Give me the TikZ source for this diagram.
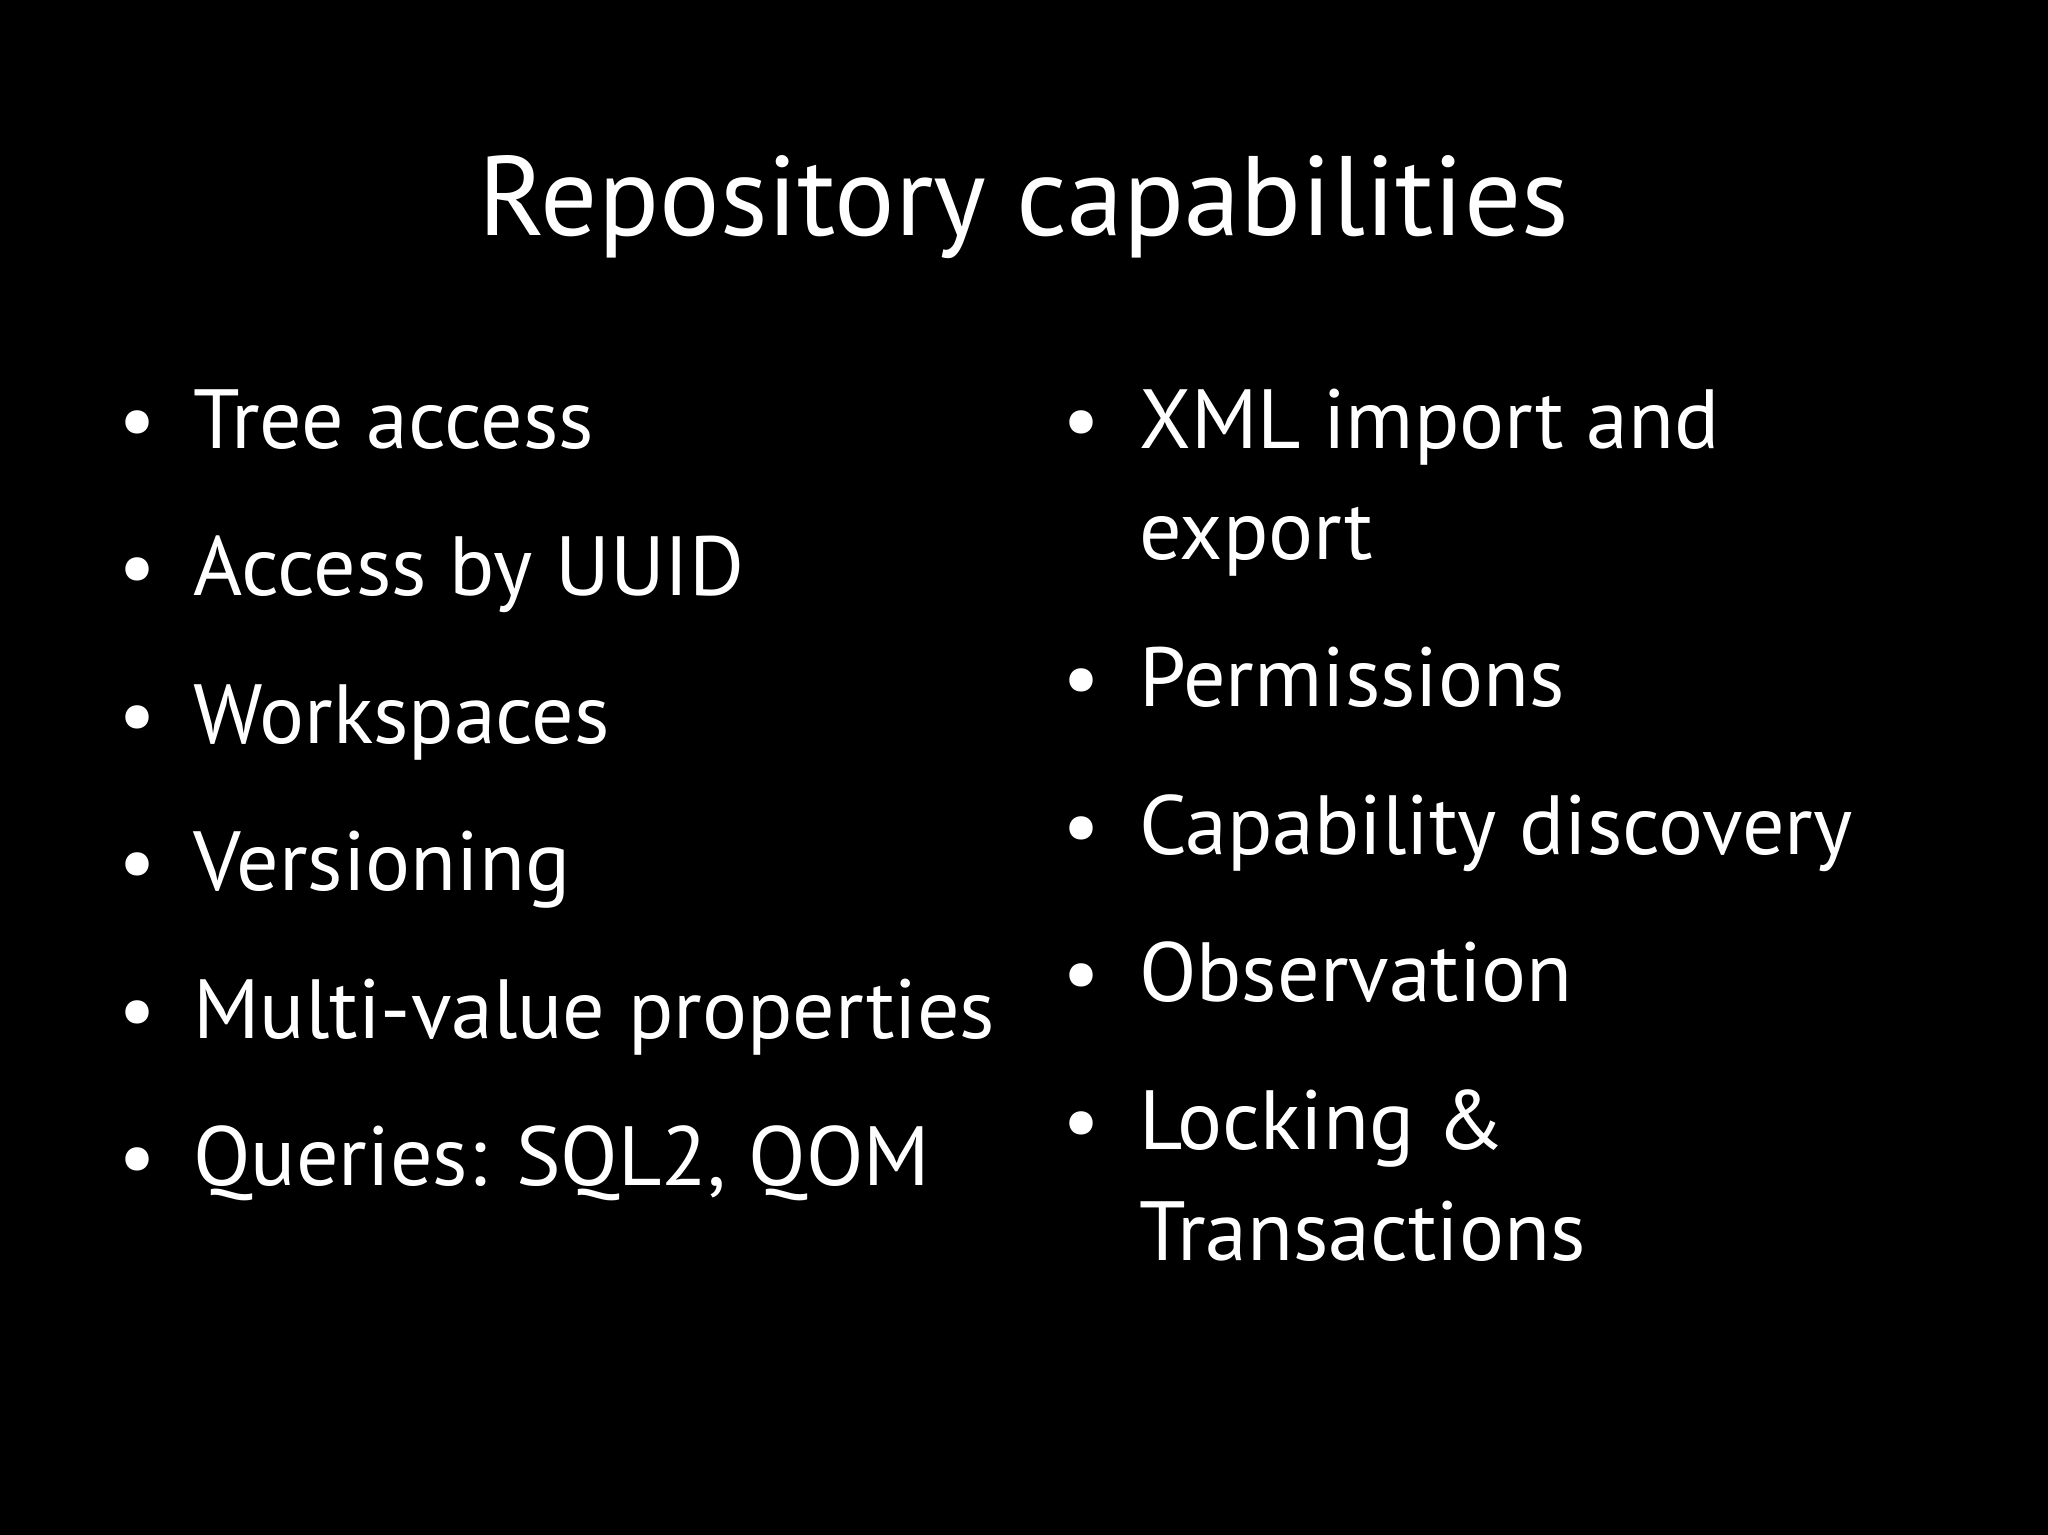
\documentclass[tikz,border=0pt]{standalone}
\usepackage{fontspec}
\setmainfont{PT Sans}
\begin{document}
\begin{tikzpicture}[x=1.306pt,y=-1.306pt,
  item/.style={anchor=base west,inner sep=0pt,text=white,font=\fontsize{84}{113}\selectfont},
  bul/.style={anchor=base,inner sep=0pt,text=white,font=\fontsize{84}{113}\selectfont}]
\fill[black] (0,0) rectangle (1568,1175);
\useasboundingbox (0,0) rectangle (1568,1175);
\node[anchor=base,inner sep=0pt,text=white,font=\fontsize{113}{130}\selectfont] (title) at (784,180) {Repository capabilities};
\foreach \t [count=\i] in {Tree access,Access by UUID,Workspaces,Versioning,Multi-value properties,{Queries: SQL2, QOM}}{
  \node[bul] (lb\i) at (105,{343+113*(\i-1)}) {•};
  \node[item] (l\i) at (148,{343+113*(\i-1)}) {\t};
}
\node[bul] (rb1) at (828,343) {•};
\node[item] (r1) at (872,343) {XML import and};
\node[item] (r1b) at (872,428) {export};
\node[bul] (rb2) at (828,541) {•};
\node[item] (r2) at (872,541) {Permissions};
\node[bul] (rb3) at (828,654) {•};
\node[item] (r3) at (872,654) {Capability discovery};
\node[bul] (rb4) at (828,767) {•};
\node[item] (r4) at (872,767) {Observation};
\node[bul] (rb5) at (828,880) {•};
\node[item] (r5) at (872,880) {Locking \&};
\node[item] (r5b) at (872,965) {Transactions};
\end{tikzpicture}
\end{document}
